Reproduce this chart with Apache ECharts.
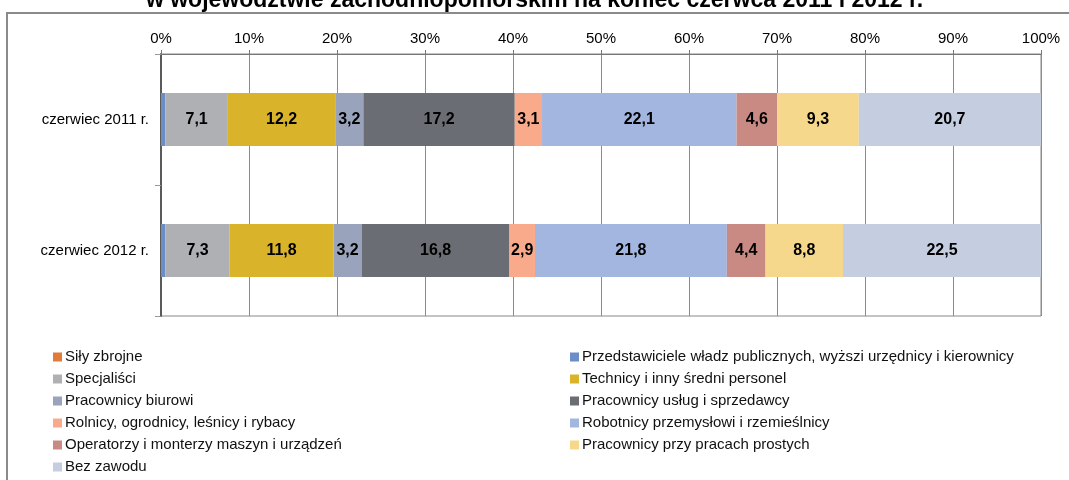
<!DOCTYPE html>
<html>
<head>
	<meta http-equiv="Content-Type" content="text/html; charset=utf-8" />
	<script src="https://cdn.jsdelivr.net/npm/echarts@6/dist/echarts.min.js"></script>
	<style>
		html, body { margin: 0; padding: 0; background: #fff; }
		#chart { width: 1069px; height: 480px; }
	</style>
</head>
<body>
	<div id="chart"></div>
<script type="text/javascript">
	var categories = ['czerwiec 2011 r.', 'czerwiec 2012 r.'];
	var groups = [
		'Siły zbrojne',
		'Przedstawiciele władz publicznych, wyższi urzędnicy i kierownicy',
		'Specjaliści',
		'Technicy i inny średni personel',
		'Pracownicy biurowi',
		'Pracownicy usług i sprzedawcy',
		'Rolnicy, ogrodnicy, leśnicy i rybacy',
		'Robotnicy przemysłowi i rzemieślnicy',
		'Operatorzy i monterzy maszyn i urządzeń',
		'Pracownicy przy pracach prostych',
		'Bez zawodu'
	];
	var values2011 = [0.1, 0.4, 7.1, 12.2, 3.2, 17.2, 3.1, 22.1, 4.6, 9.3, 20.7];
	var values2012 = [0.1, 0.4, 7.3, 11.8, 3.2, 16.8, 2.9, 21.8, 4.4, 8.8, 22.5];
	var colors = ['#e07b39', '#6c8ec8', '#aeb0b3', '#d9b42a', '#9aa3bc', '#6a6d73',
		'#f9aa8a', '#a3b6e0', '#c98a84', '#f6d88c', '#c5cde0'];

	var font = 'Arial, "Liberation Sans", sans-serif';

	var series = [];
	for (var i = 0; i < groups.length; i++) {
		series.push({
			name: groups[i],
			type: 'bar',
			stack: 'total',
			barWidth: 53,
			data: [values2011[i], values2012[i]],
			itemStyle: { color: colors[i] },
			label: {
				show: true,
				position: 'inside',
				color: '#000',
				fontFamily: font,
				fontWeight: 'bold',
				fontSize: 16,
				formatter: function(p) {
					return p.value >= 2 ? p.value.toFixed(1).replace('.', ',') : '';
				}
			}
		});
	}

	// legenda w dwoch kolumnach
	var leftNames = [], rightNames = [];
	groups.forEach(function(g, idx) {
		if (idx % 2 == 0) leftNames.push(g); else rightNames.push(g);
	});

	var legendBase = {
		orient: 'vertical',
		top: 349,
		padding: 0,
		itemWidth: 9,
		itemHeight: 9,
		itemGap: 6,
		icon: 'rect',
		selectedMode: false,
		textStyle: { fontFamily: font, fontSize: 15, color: '#111', lineHeight: 16, padding: [0, 0, 0, -2] }
	};

	var myChart = echarts.init(document.getElementById('chart'));
	var option = {
		animation: false,
		color: colors,
		title: {
			text: 'w województwie zachodniopomorskim na koniec czerwca 2011 i 2012 r.',
			left: 'center',
			top: -11,
			padding: 0,
			textStyle: { fontFamily: font, fontWeight: 'bold', fontSize: 23, color: '#000' }
		},
		graphic: [{
			type: 'rect',
			shape: { x: 7, y: 13, width: 1100, height: 500 },
			style: { fill: 'none', stroke: '#8a8a8a', lineWidth: 2 },
			silent: true
		}],
		legend: [
			Object.assign({ left: 53, data: leftNames }, legendBase),
			Object.assign({ left: 570, data: rightNames }, legendBase)
		],
		grid: {
			left: 161,
			right: 28,
			top: 54,
			bottom: 164,
			show: true,
			borderColor: '#888',
			borderWidth: 1
		},
		xAxis: {
			type: 'value',
			position: 'top',
			min: 0,
			max: 100,
			interval: 10,
			axisLine: { show: true, lineStyle: { color: '#777', width: 1 } },
			axisTick: { show: true, length: 4, lineStyle: { color: '#777' } },
			axisLabel: {
				margin: 8,
				fontFamily: font,
				fontSize: 15,
				color: '#000',
				formatter: '{value}%'
			},
			splitLine: { show: true, lineStyle: { color: '#8c8c8c', width: 1 } }
		},
		yAxis: {
			type: 'category',
			inverse: true,
			data: categories,
			axisLine: { show: true, lineStyle: { color: '#5a5a5a', width: 2 } },
			axisTick: { show: true, length: 6, lineStyle: { color: '#999' } },
			axisLabel: { margin: 12, fontFamily: font, fontSize: 15, color: '#000' }
		},
		series: series
	};
	myChart.setOption(option);
</script>
</body>
</html>
